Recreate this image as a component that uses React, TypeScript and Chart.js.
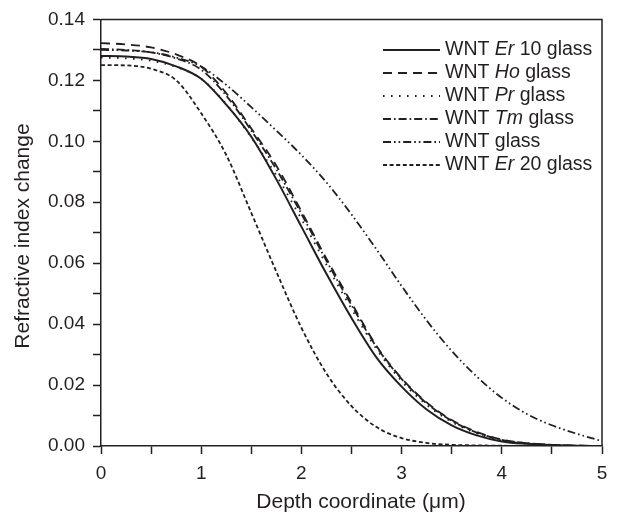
import { useEffect, useRef } from 'react';
import { Chart, registerables } from 'chart.js';

Chart.register(...registerables);

// Depth coordinate (µm)
const depth = [0, 0.25, 0.5, 0.75, 1, 1.25, 1.5, 1.75, 2, 2.25, 2.5, 2.75, 3, 3.25, 3.5, 3.75, 4, 4.25, 4.5, 4.75, 5];

// Refractive index change per glass
const er10 = [0.1280, 0.1278, 0.1270, 0.1246, 0.1205, 0.1120, 0.1015, 0.0875, 0.0720, 0.0565, 0.0420, 0.0290, 0.0195, 0.0120, 0.0068, 0.0035, 0.0015, 0.0007, 0.0003, 0.0001, 0.0000];
const ho = [0.1322, 0.1318, 0.1308, 0.1285, 0.1245, 0.1158, 0.1042, 0.0920, 0.0770, 0.0615, 0.0470, 0.0328, 0.0222, 0.0143, 0.0085, 0.0046, 0.0021, 0.0009, 0.0004, 0.0001, 0.0000];
const pr = [0.1275, 0.1272, 0.1264, 0.1244, 0.1205, 0.1122, 0.1012, 0.0888, 0.0745, 0.0595, 0.0450, 0.0318, 0.0213, 0.0135, 0.0079, 0.0041, 0.0018, 0.0008, 0.0003, 0.0001, 0.0000];
const tm = [0.1303, 0.1300, 0.1292, 0.1272, 0.1235, 0.1150, 0.1035, 0.0908, 0.0762, 0.0608, 0.0462, 0.0325, 0.0220, 0.0140, 0.0083, 0.0044, 0.0020, 0.0009, 0.0004, 0.0001, 0.0000];
const wnt = [0.1300, 0.1298, 0.1292, 0.1275, 0.1245, 0.1185, 0.1112, 0.1035, 0.0955, 0.0865, 0.0760, 0.0645, 0.0525, 0.0412, 0.0312, 0.0228, 0.0158, 0.0105, 0.0068, 0.0040, 0.0016];
const er20 = [0.1250, 0.1249, 0.1238, 0.1200, 0.1092, 0.0955, 0.0765, 0.0572, 0.0388, 0.0238, 0.0131, 0.0062, 0.0026, 0.0010, 0.0004, 0.0002, 0.0001, 0.0000, 0.0000, 0.0000, 0.0000];

// Legend labels: [text, italic]
const labels: [string, boolean][][] = [
  [['WNT ', false], ['Er', true], [' 10 glass', false]],
  [['WNT ', false], ['Ho', true], [' glass', false]],
  [['WNT ', false], ['Pr', true], [' glass', false]],
  [['WNT ', false], ['Tm', true], [' glass', false]],
  [['WNT glass', false]],
  [['WNT ', false], ['Er', true], [' 20 glass', false]],
];

const xTitle = 'Depth coordinate (\u03bcm)';
const yTitle = 'Refractive index change';

const INK = '#231f20';
const FONT = '"Liberation Sans", Arial, Helvetica, sans-serif';
const FS = 19;
const LFS = 19.5;
const TFS = 21;

export default function App() {
  const ref = useRef<HTMLCanvasElement | null>(null);

  useEffect(() => {
    document.body.style.margin = '0';
    const canvas = ref.current;
    if (!canvas) return;

    const series = [er10, ho, pr, tm, wnt, er20];
    const dashes = [[], [9, 6], [1.6, 6.4], [8, 3, 1.6, 3], [8, 3, 1.6, 3, 1.6, 3], [4, 2.6]];
    const widths = [2, 1.8, 1.8, 1.8, 1.8, 1.8];

    const legendPlugin = {
      id: 'customLegendFrame',
      afterDraw(chart: any) {
        const c = chart.ctx as CanvasRenderingContext2D;
        const a = chart.chartArea;
        c.save();
        // frame (top & right)
        c.strokeStyle = INK;
        c.lineWidth = 1.5;
        c.setLineDash([]);
        c.beginPath();
        c.moveTo(a.left, a.top);
        c.lineTo(a.right, a.top);
        c.lineTo(a.right, a.bottom);
        c.stroke();
        // axis titles
        c.fillStyle = INK;
        c.font = `${TFS}px ${FONT}`;
        c.textAlign = 'center';
        c.textBaseline = 'middle';
        c.fillText(xTitle, 361, 502);
        c.save();
        c.translate(23, 236);
        c.rotate(-Math.PI / 2);
        c.fillText(yTitle, 0, 0);
        c.restore();
        // legend
        chart.data.datasets.forEach((ds: any, i: number) => {
          const y = 50 + i * 23;
          c.strokeStyle = INK;
          c.lineWidth = ds.borderWidth;
          c.setLineDash(ds.borderDash || []);
          c.beginPath();
          c.moveTo(383, y);
          c.lineTo(440, y);
          c.stroke();
          c.setLineDash([]);
          let x = 445;
          c.fillStyle = INK;
          c.textBaseline = 'middle';
          c.textAlign = 'left';
          for (const [t, it] of labels[i]) {
            c.font = `${it ? 'italic ' : ''}${LFS}px ${FONT}`;
            c.fillText(t, x, y);
            x += c.measureText(t).width;
          }
        });
        c.restore();
      },
    };

    const chart = new Chart(canvas, {
      type: 'line',
      data: {
        datasets: series.map((s, i) => ({
          label: labels[i].map((p) => p[0]).join(''),
          data: depth.map((d, j) => ({ x: d, y: s[j] })),
          borderColor: INK,
          borderWidth: widths[i],
          borderDash: dashes[i],
          pointRadius: 0,
          fill: false,
          cubicInterpolationMode: 'monotone' as const,
        })),
      },
      options: {
        animation: false,
        responsive: true,
        maintainAspectRatio: false,
        devicePixelRatio: 1,
        layout: { padding: { top: 16, right: 33, left: 0, bottom: 0 } },
        plugins: { legend: { display: false }, tooltip: { enabled: false } },
        scales: {
          x: {
            type: 'linear',
            min: 0,
            max: 5,
            afterFit: (s: any) => { s.height = 70; },
            ticks: {
              stepSize: 0.5,
              autoSkip: false,
              maxRotation: 0,
              padding: 8,
              color: INK,
              font: { family: FONT, size: FS },
              callback: (v: any) => (Number.isInteger(Number(v)) ? String(v) : ''),
            },
            grid: { drawOnChartArea: false, tickLength: 8, color: INK, tickWidth: 1.5 },
            border: { color: INK, width: 1.5 },
            title: { display: false },
          },
          y: {
            type: 'linear',
            min: 0,
            max: 0.14,
            afterFit: (s: any) => { s.width = 101; },
            ticks: {
              stepSize: 0.01,
              autoSkip: false,
              padding: 8,
              color: INK,
              font: { family: FONT, size: FS },
              callback: (v: any) => (Math.round(Number(v) * 100) % 2 === 0 ? Number(v).toFixed(2) : ''),
            },
            grid: { drawOnChartArea: false, tickLength: 8, color: INK, tickWidth: 1.5 },
            border: { color: INK, width: 1.5 },
            title: { display: false },
          },
        },
      },
      plugins: [legendPlugin],
    } as any);

    return () => chart.destroy();
  }, []);

  return (
    <div style={{ position: 'relative', width: 635, height: 516 }}>
      <canvas ref={ref} />
    </div>
  );
}
